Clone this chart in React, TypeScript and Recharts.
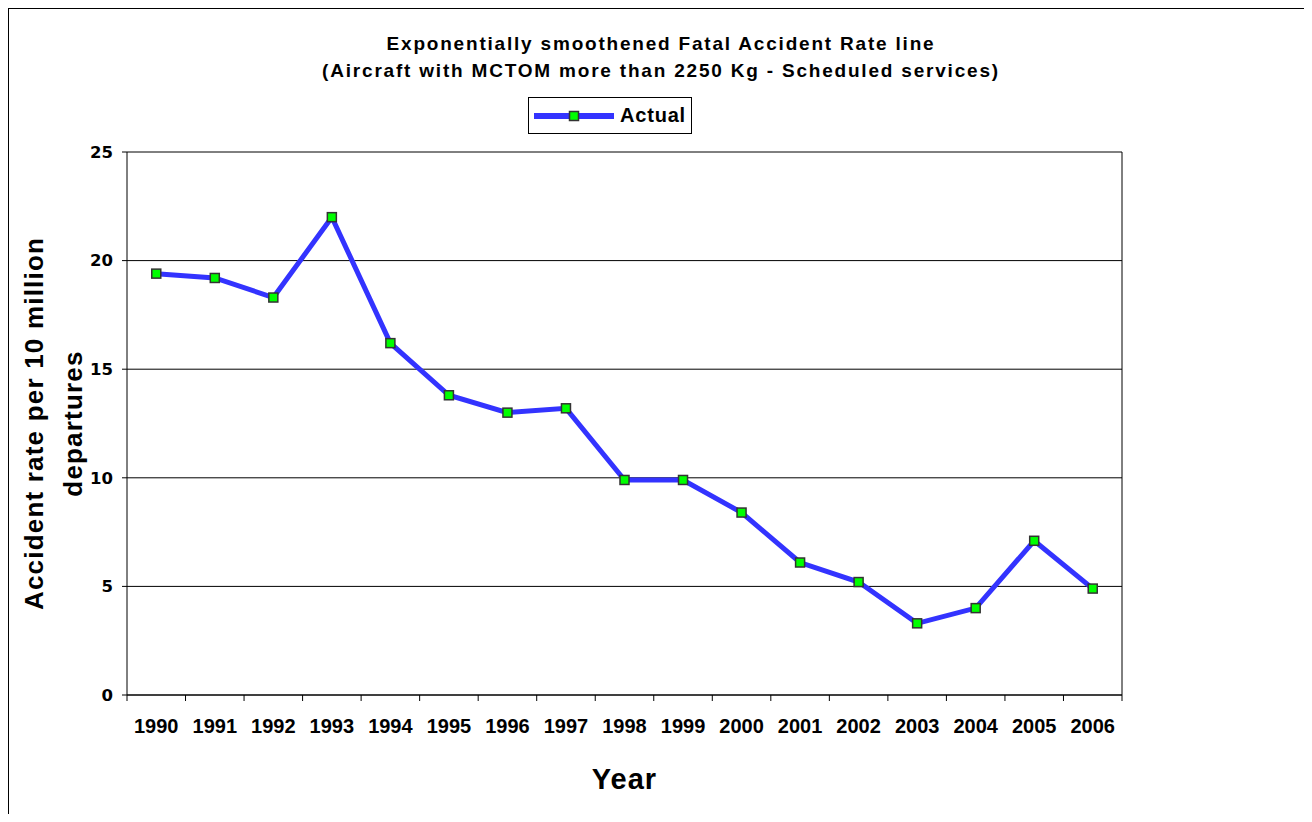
import React from 'react';
import { LineChart, Line, XAxis, YAxis, CartesianGrid, Legend } from 'recharts';

const years = ['1990', '1991', '1992', '1993', '1994', '1995', '1996', '1997', '1998', '1999', '2000', '2001', '2002', '2003', '2004', '2005', '2006'];
const actual = [19.4, 19.2, 18.3, 22.0, 16.2, 13.8, 13.0, 13.2, 9.9, 9.9, 8.4, 6.1, 5.2, 3.3, 4.0, 7.1, 4.9];
const yTicks = [0, 5, 10, 15, 20, 25];
const titleLines = [
  'Exponentially smoothened Fatal Accident Rate line',
  '(Aircraft with MCTOM more than 2250 Kg - Scheduled services)',
];
const yLabelLines = ['Accident rate per 10 million', 'departures'];
const xLabel = 'Year';

const data = years.map((year, i) => ({ year, actual: actual[i] }));

const FONT = '"Liberation Sans", Arial, sans-serif';
const LINE_COLOR = '#3333ff';
const DOT_COLOR = '#00ff00';

const SquareDot = (props: any) => {
  const { cx, cy } = props;
  if (cx == null || cy == null) return null;
  return <rect x={cx - 4.5} y={cy - 4.5} width={9} height={9} fill={DOT_COLOR} stroke="#333" strokeWidth={1.5} />;
};

const YearTick = (props: any) => {
  const { x, y, payload, index } = props;
  const off = payload && payload.offset ? payload.offset : 0;
  return (
    <g>
      <line x1={x - off} y1={y} x2={x - off} y2={y + 6} stroke="#000" />
      {index === years.length - 1 && <line x1={x + off} y1={y} x2={x + off} y2={y + 6} stroke="#000" />}
      <text x={x} y={y + 38} textAnchor="middle" fontFamily={FONT} fontWeight="bold" fontSize={20} fill="#000">
        {payload.value}
      </text>
    </g>
  );
};

const renderLegend = (props: any) => {
  const item = props.payload && props.payload[0];
  return (
    <div style={{ boxSizing: 'border-box', width: 164, height: 37, border: '1px solid #000', background: '#fff', display: 'flex', alignItems: 'center' }}>
      <svg width={84} height={20} style={{ marginLeft: 4, flex: 'none' }}>
        <line x1={1} y1={10} x2={81} y2={10} stroke={LINE_COLOR} strokeWidth={6} />
        <rect x={36.5} y={5.5} width={9} height={9} fill={DOT_COLOR} stroke="#333" strokeWidth={1.5} />
      </svg>
      <span style={{ fontFamily: FONT, fontWeight: 'bold', fontSize: 20, letterSpacing: 0.8, marginLeft: 3 }}>{item ? item.value : 'Actual'}</span>
    </div>
  );
};

const renderYLabel = (props: any) => {
  const { viewBox } = props;
  const cy = viewBox.y + viewBox.height / 2;
  const xs = [35, 74];
  return (
    <g>
      {yLabelLines.map((t, i) => (
        <text key={i} x={xs[i]} y={cy} transform={`rotate(-90, ${xs[i]}, ${cy})`} textAnchor="middle" fontFamily={FONT} fontWeight="bold" fontSize={26} letterSpacing={1.2} fill="#000">
          {t}
        </text>
      ))}
    </g>
  );
};

const renderXLabel = (props: any) => {
  const { viewBox } = props;
  return (
    <text x={viewBox.x + viewBox.width / 2} y={viewBox.y + 94} textAnchor="middle" fontFamily={FONT} fontWeight="bold" fontSize={29} letterSpacing={1} fill="#000">
      {xLabel}
    </text>
  );
};

export default function App() {
  return (
    <div style={{ position: 'relative', width: 1296, height: 806 }}>
      <div style={{ position: 'absolute', left: -1, top: -1, width: 1296, height: 806, borderTop: '2px solid #000', borderLeft: '2px solid #000', pointerEvents: 'none' }} />
      <LineChart width={1296} height={806} data={data} margin={{ top: 144, right: 182, left: 59, bottom: 59 }}>
        {titleLines.map((t, i) => (
          <text key={i} x={653} y={42 + i * 27} textAnchor="middle" fontFamily={FONT} fontWeight="bold" fontSize={19} letterSpacing={1.8} fill="#000">{t}</text>
        ))}
        <CartesianGrid
          stroke="#000"
          verticalCoordinatesGenerator={({ offset }: any) => [offset.left + offset.width]}
        />
        <XAxis
          dataKey="year"
          scale="band"
          interval={0}
          height={60}
          axisLine={{ stroke: '#000' }}
          tickLine={false}
          tickSize={0}
          tickMargin={0}
          tick={<YearTick />}
          label={{ content: renderXLabel }}
        />
        <YAxis
          width={60}
          domain={[0, 25]}
          ticks={yTicks}
          interval={0}
          axisLine={{ stroke: '#000' }}
          tickLine={{ stroke: '#000' }}
          tickSize={5}
          tickMargin={9}
          tick={{ fill: '#000', fontFamily: '"DejaVu Sans", sans-serif', fontWeight: 'bold', fontSize: 16.5 }}
          label={{ content: renderYLabel }}
        />
        <Legend
          layout="horizontal"
          verticalAlign="middle"
          align="center"
          content={renderLegend}
          wrapperStyle={{ left: 520, top: 89, width: 164, height: 37 }}
        />
        <Line
          type="linear"
          dataKey="actual"
          name="Actual"
          stroke={LINE_COLOR}
          strokeWidth={5}
          dot={<SquareDot />}
          activeDot={false}
          isAnimationActive={false}
        />
      </LineChart>
    </div>
  );
}
